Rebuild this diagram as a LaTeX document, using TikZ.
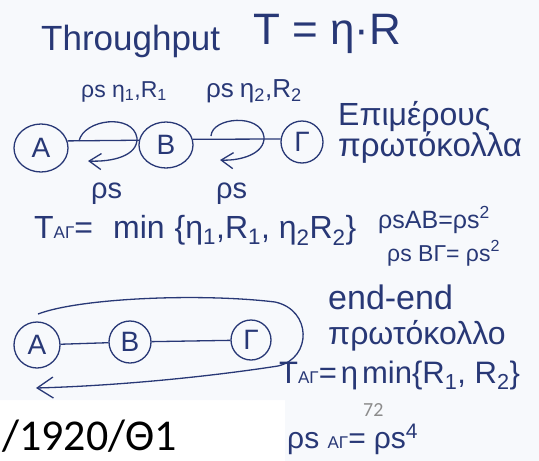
\documentclass[tikz,border=0pt]{standalone}
\usepackage{fontspec}
\setmainfont{Liberation Sans}
\newfontfamily\slidefont{Carlito}
\usetikzlibrary{arrows.meta,shapes.geometric}
\definecolor{ink}{RGB}{40,56,118}
\definecolor{scanbg}{RGB}{247,249,252}
\definecolor{pagenum}{RGB}{140,140,140}
\newcommand{\fsz}[1]{\fontsize{#1}{#1}\selectfont}
\newcommand{\idx}[1]{{\fsz{17}#1}}

\begin{document}
\begin{tikzpicture}[x=1pt,y=-1pt,
  hand/.style={font=\fsz{32}, text=ink, inner sep=0pt, anchor=base west},
  station/.style={draw=ink, ellipse, line width=1.3pt, text=ink, font=\fsz{28}, inner sep=0pt},
  wire/.style={draw=ink, line width=1.3pt},
  back/.style={wire, -{Straight Barb[length=12pt,width=16pt]}}]
  \useasboundingbox (0,0) rectangle (539,461);
  % scanned sheet
  \fill[scanbg] (0,0) -- (539,0) -- (539,461) -- (285,461) -- (285,400) -- (0,400) -- cycle;

  % Title
  \node[hand,font=\fsz{35}] (title) at (41,50) {Throughput};
  \node[hand,font=\fsz{44}] (tformula) at (253,44) {T = η·R};

  % Per-hop protocols
  \node[station, minimum width=54, minimum height=48] (a1) at (41,148) {A};
  \node[station, minimum width=54, minimum height=46] (b1) at (166,145) {B};
  \node[station, minimum size=42] (g1) at (302,142) {Γ};
  \draw[wire] (a1.15) -- (b1.170);
  \draw[wire] (b1.12) -- (g1.172);

  \coordinate (loop1s) at (79,141);
  \coordinate (loop1e) at (88,161);
  \draw[back] (loop1s) .. controls (84,119) and (133,113) .. (137,138)
    .. controls (138,156) and (112,162) .. (loop1e);
  \coordinate (loop2s) at (211,136);
  \coordinate (loop2e) at (220,160);
  \draw[back] (loop2s) .. controls (212,117) and (261,113) .. (264,137)
    .. controls (265,154) and (240,161) .. (loop2e);

  \node[hand,font=\fsz{23}] (hop1) at (81,97) {ρs η\textsubscript{1},R\textsubscript{1}};
  \node[hand,font=\fsz{26}] (hop2) at (206,97) {ρs\hspace{6pt}η\textsubscript{2},R\textsubscript{2}};
  \node[hand,font=\fsz{29}] (ack1) at (91,198) {ρs};
  \node[hand,font=\fsz{29}] (ack2) at (216,198) {ρs};

  \node[hand] (part) at (338,125) {Επιμέρους};
  \node[hand,font=\fsz{33}] (partb) at (338,156) {πρωτόκολλα};

  \node[hand,font=\fsz{32}] (tmin) at (34,238)
    {T\idx{AΓ}=\hspace{20pt}min\hspace{10pt}\{η\textsubscript{1},R\textsubscript{1}, η\textsubscript{2}R\textsubscript{2}\}};
  \node[hand,font=\fsz{25}] (pab) at (378,228) {ρsAB=ρs\textsuperscript{2}};
  \node[hand,font=\fsz{23}] (pbg) at (387,261) {ρs BΓ= ρs\textsuperscript{2}};

  % End-to-end protocol
  \node[station, minimum size=46] (a2) at (37,345) {A};
  \node[station, minimum size=42] (b2) at (130,342) {B};
  \node[station, minimum size=40] (g2) at (251,340) {Γ};
  \draw[wire] (a2) -- (b2);
  \draw[wire] (b2) -- (g2);

  \coordinate (ovals) at (38,314);
  \coordinate (ovale) at (36,388);
  \draw[back, -{Straight Barb[length=16pt,width=21pt]}] (ovals)
    .. controls (80,298) and (200,293) .. (275,302)
    .. controls (312,310) and (312,358) .. (278,366)
    .. controls (200,378) and (110,386) .. (ovale);

  \node[hand,font=\fsz{34}] (ee) at (328,309) {end-end};
  \node[hand] (eeb) at (328,344) {πρωτόκολλο};
  \node[hand,font=\fsz{31}] (tae) at (279,383)
    {T\idx{AΓ}=\hspace{4pt}η\hspace{4pt}min\{R\textsubscript{1}, R\textsubscript{2}\}};
  \node[hand,font=\fsz{30}] (pae) at (287,448) {ρs \idx{AΓ}=\hspace{8pt}ρs\textsuperscript{4}};

  \node[font=\slidefont\fsz{20}, text=pagenum, inner sep=0pt, anchor=base west] (pnum) at (363,416) {72};
  \node[font=\slidefont\fsz{44}, inner sep=0pt, anchor=base west] (slide) at (2,450) {/1920/Θ1};
\end{tikzpicture}
\end{document}
